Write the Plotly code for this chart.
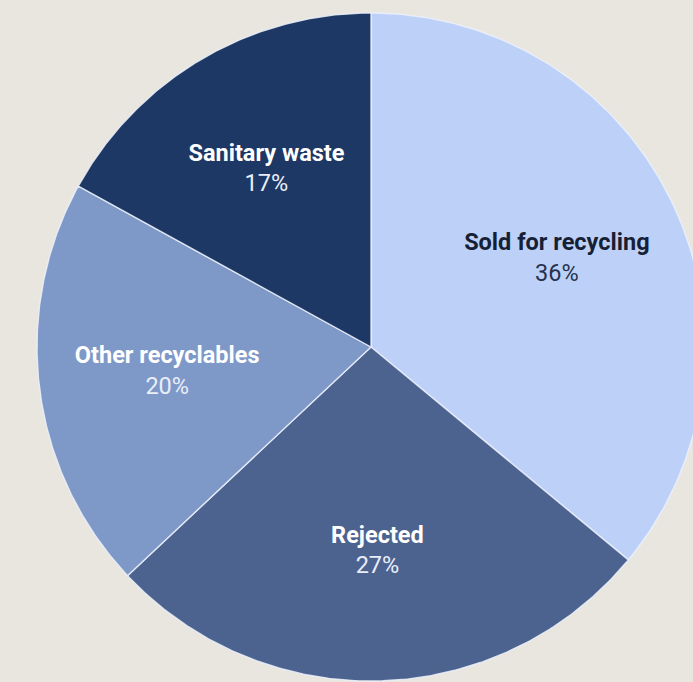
import numpy as np
import plotly.graph_objects as go

# Share of collected material by outcome
categories = ["Sold for recycling", "Rejected", "Other recyclables", "Sanitary waste"]
shares = [36, 27, 20, 17]
pct_labels = ["36%", "27%", "20%", "17%"]

slice_colors = ["#bdd1f8", "#4c6390", "#7e98c8", "#1d3864"]
label_colors = ["#161f36", "#ffffff", "#ffffff", "#ffffff"]
pct_colors = ["#27324e", "#e9eef8", "#e9eef8", "#e9eef8"]

W, H = 693, 682
CX, CY, R = 371, 347, 334          # pie centre and radius in pixels
LABEL_RADIUS = 0.615               # label distance as a fraction of the radius

fig = go.Figure()

total = float(sum(shares))
start = 0.0
for name, val, col, lc, pc, pl in zip(categories, shares, slice_colors,
                                      label_colors, pct_colors, pct_labels):
    a0 = start / total * 2 * np.pi
    a1 = (start + val) / total * 2 * np.pi
    t = np.linspace(a0, a1, 200)
    # angles run clockwise from 12 o'clock
    xs = np.concatenate([[0.0], np.sin(t), [0.0]])
    ys = np.concatenate([[0.0], np.cos(t), [0.0]])
    fig.add_trace(go.Scatter(
        x=xs, y=ys, mode="lines", fill="toself", fillcolor=col,
        line=dict(color="rgba(236,241,252,0.85)", width=1.4),
        hoverinfo="text", text=f"{name}: {pl}", showlegend=False,
    ))
    mid = (a0 + a1) / 2
    fig.add_trace(go.Scatter(
        x=[LABEL_RADIUS * np.sin(mid)], y=[LABEL_RADIUS * np.cos(mid)],
        mode="text",
        text=[f"<b><span style='color:{lc}'>{name}</span></b><br>"
              f"<span style='color:{pc}'>{pl}</span>"],
        textfont=dict(family="Roboto, Arial, sans-serif", size=23.5, color=lc),
        textposition="middle center",
        hoverinfo="skip", showlegend=False,
    ))
    start += val

fig.update_layout(
    width=W, height=H,
    margin=dict(l=0, r=0, t=0, b=0),
    paper_bgcolor="#e9e6e0",
    plot_bgcolor="#e9e6e0",
    xaxis=dict(range=[-CX / R, (W - CX) / R], visible=False, fixedrange=True),
    yaxis=dict(range=[-(H - CY) / R, CY / R], visible=False, fixedrange=True),
    showlegend=False,
)

fig.write_html("out.html")
